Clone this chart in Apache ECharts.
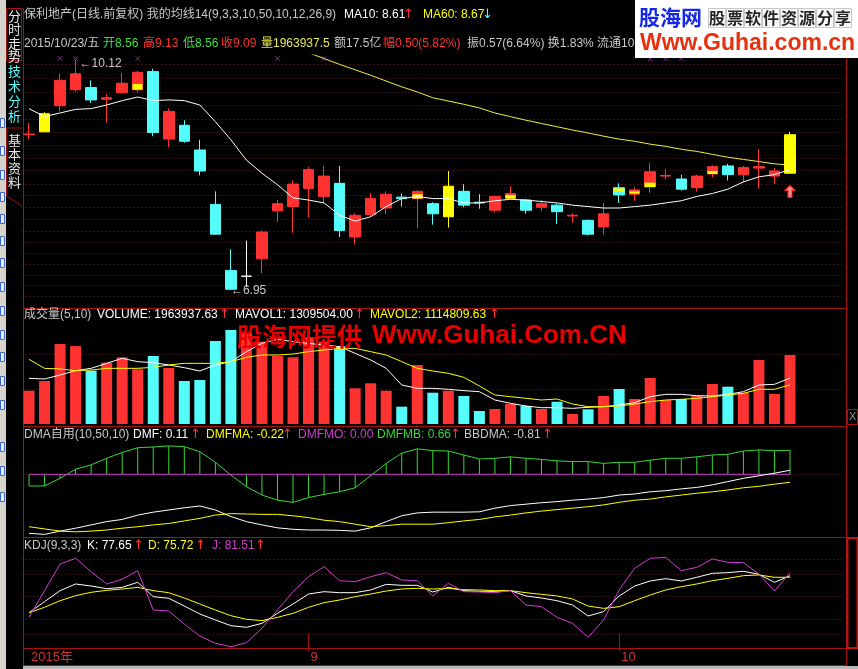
<!DOCTYPE html>
<html><head><meta charset="utf-8">
<script src="https://cdn.jsdelivr.net/npm/echarts@6/dist/echarts.min.js"></script>
<style>html,body{margin:0;padding:0;background:#000;overflow:hidden}#c{width:858px;height:669px}</style>
</head><body><div id="c"></div><script>
// ---------------- DATA ----------------
const dates = ['2015-08-06','2015-08-07','2015-08-10','2015-08-11','2015-08-12','2015-08-13','2015-08-14','2015-08-17','2015-08-18','2015-08-19','2015-08-20','2015-08-21','2015-08-24','2015-08-25','2015-08-26','2015-08-27','2015-08-28','2015-08-31',
'2015-09-01','2015-09-02','2015-09-07','2015-09-08','2015-09-09','2015-09-10','2015-09-11','2015-09-14','2015-09-15','2015-09-16','2015-09-17','2015-09-18','2015-09-21','2015-09-22','2015-09-23','2015-09-24','2015-09-25','2015-09-28','2015-09-29','2015-09-30',
'2015-10-08','2015-10-09','2015-10-12','2015-10-13','2015-10-14','2015-10-15','2015-10-16','2015-10-19','2015-10-20','2015-10-21','2015-10-22','2015-10-23'];
const padSlots = ['', ' ', '  '];
const tickIndex = [0, 18, 38];
const tickText = ['2015年', '9', '10'];

const openP  = [9.09,9.13,9.49,9.71,9.74,9.58,9.67,9.71,9.96,9.03,9.22,8.88,8.13,7.22,7.14,7.38,8.04,8.10,8.35,8.24,8.42,7.68,7.99,8.08,8.23,8.21,8.14,7.96,8.31,8.16,8.05,8.21,8.19,8.09,8.12,7.97,7.91,7.82,8.36,8.27,8.37,8.52,8.48,8.36,8.55,8.66,8.54,8.63,8.52,8.56];
const closeP = [9.10,9.38,9.84,9.93,9.57,9.60,9.80,9.95,9.12,9.41,9.00,8.59,7.72,6.96,7.14,7.75,8.14,8.41,8.61,8.52,7.77,7.98,8.21,8.27,8.21,8.31,8.00,8.38,8.12,8.15,8.24,8.28,8.05,8.14,8.03,7.98,7.72,8.00,8.26,8.33,8.58,8.53,8.34,8.52,8.65,8.54,8.64,8.65,8.59,9.09];
const lowP   = [9.03,9.13,9.41,9.68,9.53,9.26,9.66,9.67,9.07,8.92,8.98,8.53,7.71,6.95,6.99,7.18,7.89,7.74,7.95,8.15,7.68,7.58,7.96,8.00,8.10,7.80,7.85,7.81,8.09,8.07,8.02,8.20,8.00,8.04,7.86,7.88,7.70,7.71,8.15,8.18,8.29,8.48,8.32,8.31,8.50,8.46,8.43,8.35,8.41,8.56];
const highP  = [9.25,9.40,9.93,10.12,9.84,9.65,9.94,9.97,10.00,9.45,9.29,9.02,8.31,7.51,7.63,7.77,8.19,8.46,8.65,8.66,8.66,8.01,8.29,8.31,8.28,8.33,8.16,8.59,8.41,8.27,8.25,8.38,8.20,8.19,8.14,8.01,7.92,8.15,8.42,8.37,8.70,8.62,8.54,8.54,8.67,8.69,8.66,8.89,8.63,9.13];

const yellowDays = [1, 27, 49];
const whiteDays = [14];
const yellowBandIdx  = [7, 25, 31, 38, 39, 40, 44];
const yellowBandLow  = [9.71, 8.21, 8.21, 8.31, 8.28, 8.37, 8.55];
const yellowBandHigh = [9.79, 8.27, 8.26, 8.35, 8.31, 8.43, 8.59];

const ma10 = [9.45,9.34,9.39,9.44,9.45,9.50,9.56,9.61,9.56,9.57,9.56,9.50,9.27,9.02,8.74,8.56,8.40,8.22,8.19,8.15,7.98,7.90,7.96,8.10,8.21,8.24,8.21,8.21,8.15,8.15,8.18,8.20,8.19,8.17,8.15,8.12,8.10,8.08,8.08,8.10,8.12,8.15,8.18,8.24,8.28,8.34,8.44,8.51,8.54,8.61];
const ma60 = [null,null,null,null,null,null,null,null,null,null,null,null,null,null,null,null,null,
10.30,10.22,10.14,10.06,9.985,9.91,9.83,9.75,9.68,9.60,9.555,9.51,9.46,9.39,9.34,9.29,9.245,9.20,9.155,9.115,9.07,9.03,9.00,8.96,8.93,8.89,8.86,8.82,8.78,8.75,8.72,8.69,8.67];
const priceGridLevels = [10.058,9.872,9.679,9.495,9.311,9.125,8.941,8.765,8.597,8.415,8.248,8.091,7.926,7.760,7.609,7.456,7.306,7.150,7.012,6.867];
const signalIdx = [2, 3, 7, 16, 19, 40, 41, 42];
const signalLevel = 10.14;
const arrowLevel = 8.31;

const volume = [949000,1225000,2280000,2220000,1519000,1747000,1900000,1558000,1937000,1595000,1225000,1254000,2365000,2678000,2590000,2345000,1937000,1900000,2470000,2345000,2220000,1017000,1160000,949000,493000,1680000,892000,949000,798000,370000,427000,570000,513000,427000,635000,285000,418000,798000,997000,712000,1310000,684000,712000,798000,1140000,1063000,892000,1823000,855000,1963937.63];
const mavol1 = [1301000,1282000,1396000,1519000,1586000,1728000,1871000,1776000,1747000,1681000,1605000,1510000,1681000,1776000,2061000,2298000,2412000,2346000,2298000,2251000,2203000,2013000,1823000,1586000,1111000,1016000,1016000,988000,950000,921000,684000,589000,513000,465000,465000,446000,475000,494000,541000,608000,779000,845000,845000,807000,798000,845000,921000,1111000,1130000,1309504.00];
const mavol2 = [1842000,1586000,1567000,1519000,1538000,1586000,1586000,1586000,1615000,1681000,1728000,1728000,1728000,1776000,1899000,1966000,1966000,1994000,2061000,2108000,2156000,2156000,2061000,1966000,1776000,1586000,1510000,1444000,1330000,1083000,826000,779000,731000,684000,712000,570000,494000,494000,513000,570000,636000,684000,703000,731000,779000,826000,874000,988000,988000,1114809.63];
const volGridLevels = [1000000, 2000000];

const dmf   = [-1.62,-1.65,-1.56,-1.48,-1.39,-1.30,-1.24,-1.12,-1.04,-0.98,-0.92,-0.87,-0.98,-1.16,-1.30,-1.39,-1.47,-1.51,-1.53,-1.53,-1.54,-1.56,-1.47,-1.30,-1.14,-1.06,-1.04,-1.04,-1.04,-1.03,-0.93,-0.86,-0.82,-0.78,-0.75,-0.71,-0.68,-0.64,-0.57,-0.54,-0.48,-0.45,-0.40,-0.36,-0.29,-0.20,-0.11,-0.04,0.03,0.11];
const dmfma = [-1.44,-1.50,-1.56,-1.58,-1.56,-1.53,-1.48,-1.44,-1.39,-1.35,-1.28,-1.21,-1.12,-1.08,-1.09,-1.10,-1.10,-1.14,-1.19,-1.26,-1.30,-1.37,-1.44,-1.41,-1.37,-1.37,-1.37,-1.33,-1.28,-1.24,-1.17,-1.12,-1.06,-1.01,-0.97,-0.93,-0.89,-0.84,-0.77,-0.71,-0.68,-0.62,-0.57,-0.52,-0.48,-0.43,-0.37,-0.33,-0.27,-0.22];
const dmfmb = [-0.32,-0.32,-0.11,0.14,0.26,0.44,0.60,0.73,0.75,0.78,0.76,0.62,0.33,-0.02,-0.34,-0.57,-0.71,-0.77,-0.64,-0.55,-0.48,-0.37,-0.04,0.30,0.58,0.70,0.65,0.64,0.53,0.42,0.44,0.48,0.44,0.41,0.37,0.35,0.35,0.30,0.33,0.33,0.39,0.44,0.44,0.48,0.53,0.55,0.64,0.67,0.65,0.66];
const dmfmo = [0,0,0,0,0,0,0,0,0,0,0,0,0,0,0,0,0,0,0,0,0,0,0,0,0,0,0,0,0,0,0,0,0,0,0,0,0,0,0,0,0,0,0,0,0,0,0,0,0,0];

const kLine = [28.4,43.1,57.8,66.7,64,60.4,62.2,68.9,49.8,47.6,37.3,26.7,18.7,11.1,8.9,14.2,27.6,40,53.3,56.4,55.1,55.1,58.7,66.2,64.9,64.9,56,62.2,57.8,56.9,56.9,57.8,50.7,48,44.4,38.7,24,29.8,50.7,64,70.7,73.8,70.7,75.6,80.9,81.8,83.6,79.6,68.9,77.65];
const dLine = [28.4,35.6,44.4,51.1,55.6,58.2,60,62.2,57.8,55.1,48,40,32,24.4,19.6,17.8,22.2,27.6,35.6,41.8,45.3,49.8,53.3,57.3,60,60.9,60,60.9,59.1,58.7,57.8,57.8,55.1,52.9,50.7,46.7,37.3,34.2,36.4,44.4,52,58.7,63.1,66.7,71.1,74.2,77.8,78.7,75.6,75.72];
const jLine = [22.2,57.8,93.3,100.9,83.1,66.7,72.9,84.4,32,30.7,13.3,-2.7,-12.4,-16.9,-11.6,7.6,32,56.4,76.4,89.8,71.1,69.8,76.4,81.8,72,71.1,50.7,67.6,56.4,56,55.1,57.8,38.7,36.4,22.2,14.2,-4.4,18.7,58.7,87.6,100.9,102.2,84.4,88.9,100,95.6,95.1,80,57.3,81.51];
const kdjGridLevels = [0, 20, 50, 80, 100];

// ---------------- STYLE ----------------
const RED='#ff3232', CYAN='#54fcfc', YEL='#ffff00', WHITE='#ffffff', GREEN='#36d836', MAG='#d23cd2';
const FRAME='#a41212', DOT='#c00000', GREY='#c8c8c8';
const FF='"Liberation Sans","Noto Sans CJK SC",sans-serif';
const FONT='12px '+FF;
const AFONT='13px "DejaVu Sans"';
const cats = dates.concat(padSlots);
const L = 21.24, W = 823.1;

const candleData = dates.map((d,i)=>{
  const it = {value:[openP[i], closeP[i], lowP[i], highP[i]]};
  if (yellowDays.includes(i)) it.itemStyle = {color:YEL,color0:YEL,borderColor:YEL,borderColor0:YEL,borderColorDoji:YEL};
  if (whiteDays.includes(i)) it.itemStyle = {color:WHITE,color0:WHITE,borderColor:WHITE,borderColor0:WHITE,borderColorDoji:WHITE};
  return it;
});
const bandData = dates.map((d,i)=>{
  const k = yellowBandIdx.indexOf(i);
  return k < 0 ? '-' : [yellowBandLow[k], yellowBandHigh[k], yellowBandLow[k], yellowBandHigh[k]];
});
const volData = volume.map((v,i)=>({value:v, itemStyle:{color: closeP[i] >= openP[i] ? RED : CYAN}}));

function xa(g, showLabel){
  return {type:'category', gridIndex:g, data:cats, boundaryGap:true,
    axisLine:{show:false},
    axisTick: showLabel ? {show:true, alignWithLabel:true, length:17, interval:(i)=>i===18||i===38, lineStyle:{color:FRAME}} : {show:false},
    axisLabel: showLabel ? {show:true, interval:(i)=>tickIndex.includes(i), formatter:(v,i)=>tickText[tickIndex.indexOf(i)] || '',
      color:'#d83030', fontSize:13, fontFamily:FF, align:'left', margin:3, padding:[0,0,0,2]} : {show:false},
    splitLine:{show:false}};
}
function ya(g, min, max){
  return {type:'value', gridIndex:g, min, max, show:false, splitLine:{show:false}};
}
function dotted(levels){
  return {symbol:'none', silent:true, z:1, label:{show:false}, emphasis:{disabled:true},
    lineStyle:{color:DOT, type:[1,3], width:1, opacity:0.9}, data: levels.map(v=>({yAxis:v}))};
}
function ln(name, g, data, color, z){
  return {name, type:'line', xAxisIndex:g, yAxisIndex:g, data, symbol:'none', showSymbol:false,
    lineStyle:{color, width:1}, itemStyle:{color}, z: z||3, silent:true, connectNulls:false};
}

// graphic helpers
function txt(x,y,text,fill,font,z,extra){ return Object.assign({type:'text', x, y, z: z||10, silent:true, style:{text, fill, font: font||FONT, textVerticalAlign:'middle'}}, extra||{}); }
function arr(x,y,ch,fill){ return txt(x,y,ch,fill,AFONT,10); }
function hl(y,x1,x2,c,w){ return {type:'line', z:0, silent:true, shape:{x1,y1:y,x2,y2:y}, style:{stroke:c||FRAME, lineWidth:w||1}}; }
function vl(x,y1,y2,c,w){ return {type:'line', z:0, silent:true, shape:{x1:x,y1,x2:x,y2}, style:{stroke:c||FRAME, lineWidth:w||1}}; }
function rc(x,y,w,h,fill,stroke,z){ return {type:'rect', z: z||0, silent:true, shape:{x,y,width:w,height:h}, style:{fill: fill||'none', stroke: stroke||null, lineWidth:1}}; }
function vtext(x,y,text,fill,lh){ return {type:'text', x, y, z:11, silent:true, style:{text, fill, font:'13px "Noto Sans CJK SC"', lineHeight:lh, textVerticalAlign:'top'}}; }

const graphics = [];
// sidebar
graphics.push(rc(0,0,6,669,'#d6d3cc',null,0));
[118,146,170,192,214,236,258,282,306,330,352,376,400,442,466,492].forEach(y=>graphics.push(rc(0.5,y+0.5,4,9,'#e8eef8','#3a64c8',1)));
graphics.push(rc(6.5,8.5,15,52,'#000',FRAME,1));
graphics.push({type:'polyline', z:1, silent:true, shape:{points:[[22,128],[6.5,128],[6.5,196],[22,206]]}, style:{stroke:FRAME, fill:'none', lineWidth:1}});
graphics.push(vtext(8,9,'分\n时\n走\n势','#e8e8e8',13.5));
graphics.push(vtext(8,64,'技\n术\n分\n析',CYAN,15));
graphics.push(vtext(8,133,'基\n本\n资\n料','#e8e8e8',14));
// frame
graphics.push(vl(23.5,8,666), vl(846.5,8,666));
[308.5,426.5,537.5,648.5,665.5].forEach(y=>graphics.push(hl(y,23,847)));
graphics.push(rc(847.5,409.5,10,15,null,FRAME,1), txt(849,417,'X','#909090','11px '+FF,11));
graphics.push({type:'rect', z:1, silent:true, shape:{x:847.5,y:538,width:10,height:110}, style:{fill:'none', stroke:'#c01414', lineWidth:2}});
graphics.push(rc(23,666,835,3,'#b8b8b8',null,1));
// header row 1
graphics.push(txt(24,15,'保利地产(日线.前复权) 我的均线14(9,3,3,10,50,10,12,26,9)',GREY));
graphics.push(txt(344,15,'MA10: 8.61',WHITE), arr(403,15,'↑',RED), txt(423,15,'MA60: 8.67',YEL), arr(482,15,'↓',CYAN));
// header row 2
graphics.push(txt(24,44,'2015/10/23/五',GREY), txt(103,44,'开8.56','#3ce03c'), txt(143,44,'高9.13',RED), txt(183,44,'低8.56','#3ce03c'),
  txt(221,44,'收9.09',RED), txt(261,44,'量1963937.5','#e8e850'), txt(334,44,'额17.5亿',GREY), txt(383,44,'幅0.50(5.82%)',RED),
  txt(467,44,'振0.57(6.64%) 换1.83% 流通108亿',GREY));
// volume header
graphics.push(txt(24,315,'成交量(5,10)',GREY), txt(97,315,'VOLUME: 1963937.63',WHITE), arr(219,315,'↑',RED),
  txt(235,315,'MAVOL1: 1309504.00',WHITE), arr(354,315,'↑',RED), txt(370,315,'MAVOL2: 1114809.63',YEL), arr(489,315,'↑',RED));
// DMA header
graphics.push(txt(24,435,'DMA自用(10,50,10)',GREY), txt(133,435,'DMF: 0.11',WHITE), arr(190,435,'↑',RED),
  txt(206,435,'DMFMA: -0.22',YEL), arr(282,435,'↑',RED), txt(298,435,'DMFMO: 0.00',MAG),
  txt(377,435,'DMFMB: 0.66',GREEN), arr(450,435,'↑',RED), txt(464,435,'BBDMA: -0.81',GREY), arr(542,435,'↑',RED));
// KDJ header
graphics.push(txt(24,546,'KDJ(9,3,3)',GREY), txt(87,546,'K: 77.65',WHITE), arr(133,546,'↑',RED),
  txt(148,546,'D: 75.72',YEL), arr(195,546,'↑',RED), txt(212,546,'J: 81.51',MAG), arr(255,546,'↑',RED));
// watermarks
graphics.push(rc(635,0,223,58,'#ffffff',null,100));
graphics.push(txt(639,17,'股海网','#1428e6','bold 21px "Noto Sans CJK SC"',101));
'股票软件资源分享'.split('').forEach((ch,k)=>{
  graphics.push(rc(708.5+k*18,8.5,17,19,'#fafafa','#c8c8c8',101));
  graphics.push(txt(709+k*18,18,ch,'#262626','bold 16px "Noto Sans CJK SC"',102));
});
graphics.push(txt(640,44,'Www.Guhai.com.cn','#e6300e','bold 23px "Liberation Sans"',101));
graphics.push(txt(237,336,'股海网提供','#e80000','bold 25px "Noto Sans CJK SC"',100));
graphics.push(txt(372,336,'Www.Guhai.Com.CN','#e80000','bold 26px "Liberation Sans"',100));

const option = {
  backgroundColor:'#000',
  animation:false,
  graphic: graphics,
  grid:[
    {left:L, width:W, top:55, height:252, outerBoundsMode:'none'},
    {left:L, width:W, top:322, height:102, outerBoundsMode:'none'},
    {left:L, width:W, top:443, height:94, outerBoundsMode:'none'},
    {left:L, width:W, top:548, height:100, outerBoundsMode:'none'}
  ],
  xAxis:[xa(0,false), xa(1,false), xa(2,false), xa(3,true)],
  yAxis:[ya(0,6.716,10.189), ya(1,0,2906000), ya(2,-1.722,0.860), ya(3,-18.67,114.67)],
  series:[
    {name:'K', type:'candlestick', xAxisIndex:0, yAxisIndex:0, data:candleData, barWidth:11, silent:true, z:2,
      itemStyle:{color:RED, color0:CYAN, borderColor:RED, borderColor0:CYAN, borderColorDoji:RED, borderWidth:1},
      markLine: dotted(priceGridLevels),
      markPoint:{silent:true, data:[
        {coord:[dates[3],10.12], symbol:'circle', symbolSize:0, label:{show:true, position:'right', distance:4, offset:[0,4], formatter:'←10.12', color:GREY, fontSize:12, fontFamily:FF}},
        {coord:[dates[13],6.95], symbol:'circle', symbolSize:0, label:{show:true, position:'right', distance:0, offset:[0,1], formatter:'←6.95', color:GREY, fontSize:12, fontFamily:FF}},
        {coord:[dates[49],arrowLevel], symbol:'path://M5,0L10,5L7,5L7,12L3,12L3,5L0,5Z', symbolSize:[10,12], itemStyle:{color:'#ff8a8a', borderColor:'#ff2020', borderWidth:1}, label:{show:false}}
      ]}},
    {name:'band', type:'candlestick', xAxisIndex:0, yAxisIndex:0, data:bandData, barWidth:11, silent:true, z:3,
      itemStyle:{color:YEL, color0:YEL, borderColor:YEL, borderColor0:YEL, borderWidth:0}},
    ln('MA10',0,ma10,WHITE,4),
    ln('MA60',0,ma60,'#eeee44',4),
    {name:'sig', type:'scatter', xAxisIndex:0, yAxisIndex:0, data:signalIdx.map(i=>[i, signalLevel]), silent:true,
      symbol:'path://M0,1L1,0L5,4L9,0L10,1L6,5L10,9L9,10L5,6L1,10L0,9L4,5Z', symbolSize:5, itemStyle:{color:'#c030d0'}},
    {name:'VOL', type:'bar', xAxisIndex:1, yAxisIndex:1, data:volData, barWidth:11, silent:true, z:2, markLine: dotted(volGridLevels)},
    ln('MAVOL1',1,mavol1,WHITE,4),
    ln('MAVOL2',1,mavol2,YEL,4),
    {name:'DMFMBs', type:'bar', xAxisIndex:2, yAxisIndex:2, data:dmfmb, barWidth:1, silent:true, itemStyle:{color:GREEN}, z:2, markLine: dotted([0])},
    ln('DMFMB',2,dmfmb,GREEN,3),
    ln('DMFMO',2,dmfmo,MAG,4),
    ln('DMF',2,dmf,WHITE,4),
    ln('DMFMA',2,dmfma,YEL,4),
    Object.assign(ln('KDJK',3,kLine,WHITE,4), {markLine: dotted(kdjGridLevels)}),
    ln('KDJD',3,dLine,YEL,4),
    ln('KDJJ',3,jLine,MAG,4)
  ]
};
const chart = echarts.init(document.getElementById('c'), null, {renderer:'canvas'});
chart.setOption(option);
</script></body></html>
